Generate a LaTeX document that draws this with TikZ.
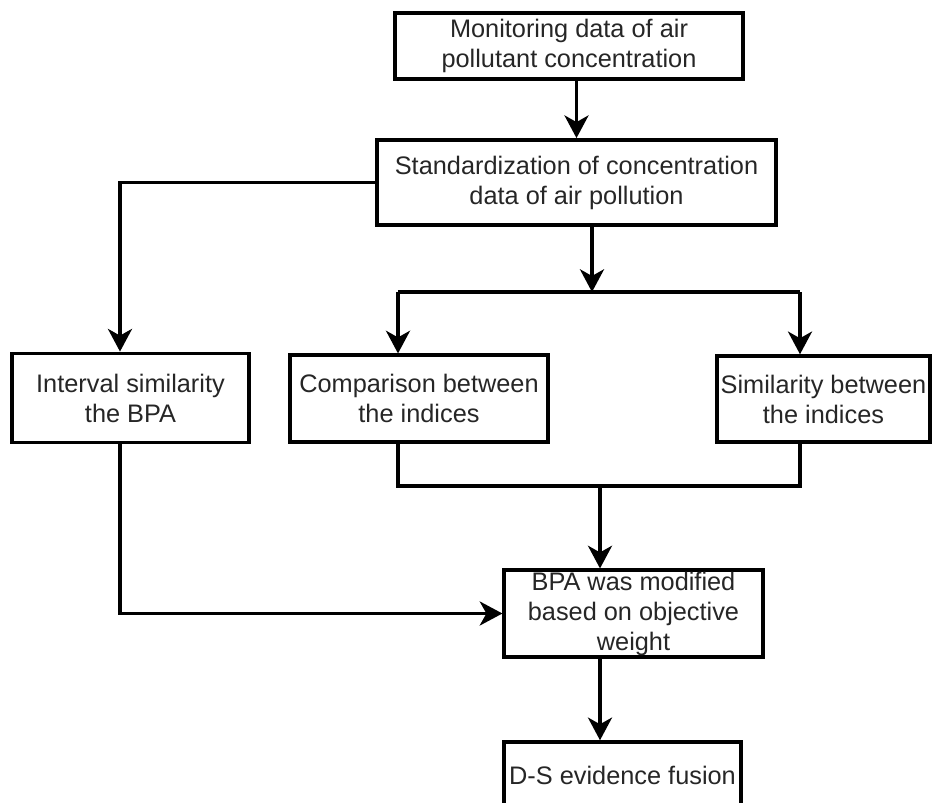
\documentclass[tikz,border=0pt]{standalone}
\usepackage{fontspec}
\setmainfont{Liberation Sans}
\usetikzlibrary{arrows.meta}

\tikzset{
    box/.style={draw, line width=2.6pt, align=center, inner sep=1pt,
        text=black!85, font=\fontsize{19pt}{22.5pt}\selectfont},
    line/.style={line width=2.6pt},
    arrow/.style={line, -{Stealth[length=17pt, width=18pt, inset=5pt]}}
}

\begin{document}
\begin{tikzpicture}[x=0.75pt, y=-0.75pt]
    \useasboundingbox (0,0) rectangle (932,803);
    \clip (0,0) rectangle (932,803);

    % Draw the boxes
    \node[box, minimum width=261pt, minimum height=49.5pt] (mon) at (569,46)
        {Monitoring data of air\\pollutant concentration};
    \node[box, minimum width=299pt, minimum height=64pt] (std) at (576.5,182.5)
        {Standardization of concentration\\data of air pollution};
    \node[box, minimum width=178pt, minimum height=67pt] (intv) at (130.5,398)
        {Interval similarity\\the BPA};
    \node[box, minimum width=193.5pt, minimum height=65pt] (comp) at (419,398.5)
        {Comparison between\\the indices};
    \node[box, minimum width=160pt, minimum height=64.5pt] (simi) at (823.5,399)
        {Similarity between\\the indices};
    \node[box, minimum width=194pt, minimum height=65pt] (bpa) at (633.5,613.5)
        {BPA was modified\\based on objective\\weight};
    \node[box, minimum width=178pt, minimum height=49.5pt] (ds) at (622.5,775)
        {D-S evidence fusion};

    % Points where the lines split and join
    \coordinate (tap) at (120,184);
    \coordinate (split) at (592,292);
    \coordinate (splitL) at (398,292);
    \coordinate (splitR) at (800,292);
    \coordinate (join) at (600,486);
    \coordinate (joinL) at (398,486);
    \coordinate (joinR) at (800,486);

    % Draw the connectors
    \draw[arrow] (mon.south -| std) -- (std.north);
    \draw[arrow] (std.west) -| (tap |- intv.north);
    \draw[arrow] (std.south -| split) -- (split);
    \draw[line] (splitL) -- (splitR);
    \draw[arrow] (splitL) -- (splitL |- comp.north);
    \draw[arrow] (splitR) -- (splitR |- simi.north);
    \draw[line] (joinL |- comp.south) -- (joinL) -- (joinR) -- (joinR |- simi.south);
    \draw[arrow] (join) -- (join |- bpa.north);
    \draw[arrow] (tap |- intv.south) |- (bpa.west);
    \draw[arrow] (join |- bpa.south) -- (join |- ds.north);
\end{tikzpicture}
\end{document}
